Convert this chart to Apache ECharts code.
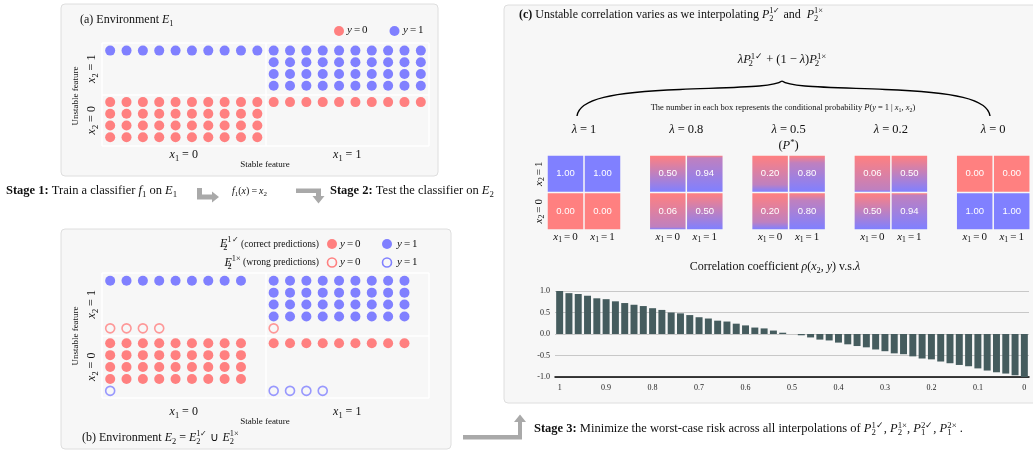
<!DOCTYPE html>
<html>
<head>
<meta charset="utf-8">
<script src="https://cdn.jsdelivr.net/npm/echarts@6/dist/echarts.min.js"></script>
<style>
  html, body { margin: 0; padding: 0; background: #ffffff; }
  #chart { width: 1033px; height: 451px; }
</style>
</head>
<body>
<div id="chart"></div>
<script>
// ---------------- data ----------------
const RED = '#ff8080';
const BLUE = '#8080ff';
const MIX = '#bf80bf';

// the four cells of the feature grid, listed as (x1, x2)
const cellX1 = [0, 1, 0, 1];
const cellX2 = [1, 1, 0, 0];

// environment E1: samples per cell, the label y equals x2
const e1Count = [10, 40, 40, 10];
// environment E2: correctly predicted samples (y = x2) and wrong ones (y = 1 - x2)
const e2Correct = [9, 36, 36, 9];
const e2Wrong = [4, 1, 1, 4];

// interpolation weights and P(y = 1 | x1, x2); each pair is [x1 = 0, x1 = 1]
const lambdaTitles = ['1', '0.8', '0.5', '0.2', '0'];
const probX2is1 = [[1.00, 1.00], [0.50, 0.94], [0.20, 0.80], [0.06, 0.50], [0.00, 0.00]];
const probX2is0 = [[0.00, 0.00], [0.06, 0.50], [0.20, 0.80], [0.50, 0.94], [1.00, 1.00]];

// correlation coefficient rho(x2, y) along lambda
const lambdaSteps = ['1', '0.98', '0.96', '0.94', '0.92', '0.9', '0.88', '0.86', '0.84', '0.82',
  '0.8', '0.78', '0.76', '0.74', '0.72', '0.7', '0.68', '0.66', '0.64', '0.62',
  '0.6', '0.58', '0.56', '0.54', '0.52', '0.5', '0.48', '0.46', '0.44', '0.42',
  '0.4', '0.38', '0.36', '0.34', '0.32', '0.3', '0.28', '0.26', '0.24', '0.22',
  '0.2', '0.18', '0.16', '0.14', '0.12', '0.1', '0.08', '0.06', '0.04', '0.02', '0'];
const corr = [1.00, 0.95, 0.93, 0.89, 0.83, 0.81, 0.76, 0.72, 0.68, 0.65,
  0.60, 0.56, 0.50, 0.48, 0.44, 0.39, 0.36, 0.31, 0.29, 0.24,
  0.20, 0.15, 0.13, 0.08, 0.03, 0.00, -0.03, -0.08, -0.13, -0.15,
  -0.20, -0.24, -0.28, -0.31, -0.36, -0.40, -0.45, -0.47, -0.52, -0.57,
  -0.59, -0.64, -0.68, -0.72, -0.75, -0.80, -0.85, -0.89, -0.92, -0.96, -1.00];

// ---------------- helpers ----------------
const SERIF = '"Liberation Serif", "Times New Roman", serif';
const SANS = '"Liberation Sans", Arial, sans-serif';
const INK = '#111111';

// rich-text styles: plain, bold, italic (math), operator, subscript, superscript, small;
// "sz" is a zero-advance subscript so a following superscript stacks above it
function rich(fs) {
  const lh = Math.round(fs * 1.3);
  const s = Math.round(fs * 0.7 * 10) / 10;
  const base = { fontFamily: SERIF, fontSize: fs, lineHeight: lh, color: INK, fontWeight: 'normal', fontStyle: 'normal' };
  const small = { fontFamily: SERIF, fontSize: s, lineHeight: s, color: INK, fontWeight: 'normal', fontStyle: 'normal' };
  return {
    t: base,
    b: Object.assign({}, base, { fontWeight: 'bold' }),
    i: Object.assign({}, base, { fontStyle: 'italic' }),
    o: Object.assign({}, base, { padding: [0, Math.round(fs * 0.22)] }),
    sb: Object.assign({}, small, { verticalAlign: 'bottom' }),
    sz: Object.assign({}, small, { verticalAlign: 'bottom', width: 0.001 }),
    sp: Object.assign({}, small, { verticalAlign: 'top' }),
    c: Object.assign({}, base, { fontSize: Math.round(fs * 0.8 * 10) / 10 })
  };
}

// a free text line centred vertically at cy
function label(text, x, cy, fs, align) {
  return {
    text: text, left: x, top: cy, padding: 0,
    textAlign: align || 'left', textVerticalAlign: 'middle',
    textStyle: { fontWeight: 'normal', fontFamily: SERIF, fontSize: fs, color: INK, rich: rich(fs) }
  };
}

// place the dots of one cell in rows, starting from a given row slot
function cellPoints(k, n, perRow, half, startRow) {
  const pts = [];
  for (let j = 0; j < n; j++) {
    const row = startRow + Math.floor(j / perRow);
    const col = j % perRow;
    pts.push([cellX1[k] * 10 + col + 0.5, (cellX2[k] + 1) * half - 0.65 - row]);
  }
  return pts;
}
function collect(counts, keep, perRow, half, startRow) {
  let pts = [];
  counts.forEach((n, k) => { if (keep(k)) pts = pts.concat(cellPoints(k, n, perRow, half, startRow)); });
  return pts;
}

const HALF_A = 4.4;   // row slots per half in panel (a)
const HALF_B = 5.25;  // row slots per half in panel (b)

const xFmt = v => `{i|x}{sb|1}{o|=}{t|${v}}`;
const yFmt = v => `{i|x}{sb|2}{o|=}{t|${v}}`;

function cellFill(p) {
  if (p >= 0.995) return BLUE;
  if (p <= 0.005) return RED;
  return new echarts.graphic.LinearGradient(0, 0, 0, 1, [
    { offset: 0, color: RED },
    { offset: 1 - p, color: MIX },
    { offset: 1, color: BLUE }
  ]);
}

// ---------------- grids & axes ----------------
const grids = [
  { left: 102, top: 43, width: 327, height: 103 },
  { left: 102, top: 273, width: 327, height: 125 }
];
const heatLeft0 = 547, heatStep = 102.3;
lambdaTitles.forEach((_, i) => grids.push({ left: heatLeft0 + heatStep * i, top: 155, width: 74, height: 75 }));
grids.push({ left: 555, top: 291, width: 474, height: 86 });

const hiddenLine = { show: false };
function valueGridAxis(gridIndex, max, interval, pos) {
  return {
    type: 'value', gridIndex, min: 0, max, interval, position: pos,
    axisLine: hiddenLine, axisTick: hiddenLine, axisLabel: hiddenLine,
    splitLine: { show: true, lineStyle: { color: '#ffffff', width: 1.5 } }
  };
}
function catAxis(gridIndex, fmt, margin, pos, rotate, showLabel, fs) {
  return {
    type: 'category', gridIndex, data: ['0', '1'], position: pos,
    axisLine: hiddenLine, axisTick: hiddenLine, splitLine: hiddenLine,
    axisLabel: { show: showLabel !== false, interval: 0, hideOverlap: false, formatter: fmt, margin,
      rotate: rotate || 0, fontWeight: 'normal', rich: rich(fs) }
  };
}

const xAxes = [
  valueGridAxis(0, 20, 10, 'top'),
  catAxis(0, xFmt, 1, 'bottom', 0, true, 12),
  valueGridAxis(1, 20, 10, 'top'),
  catAxis(1, xFmt, 6, 'bottom', 0, true, 12)
];
const yAxes = [
  valueGridAxis(0, 2 * HALF_A, HALF_A, 'right'),
  catAxis(0, yFmt, 2, 'left', 90, true, 12),
  valueGridAxis(1, 2 * HALF_B, HALF_B, 'right'),
  catAxis(1, yFmt, 2, 'left', 90, true, 12)
];
lambdaTitles.forEach((_, i) => {
  xAxes.push(catAxis(2 + i, xFmt, 0, 'bottom', 0, true, 11));
  yAxes.push(catAxis(2 + i, yFmt, 1, 'left', 90, i === 0, 11));
});
xAxes.push({
  type: 'category', gridIndex: 7, data: lambdaSteps,
  axisLine: { show: true, onZero: false, lineStyle: { color: '#000', width: 1.5 } },
  axisTick: hiddenLine,
  axisLabel: { interval: 4, fontFamily: SERIF, fontSize: 8, color: '#222', margin: 7 }
});
yAxes.push({
  type: 'value', gridIndex: 7, min: -1, max: 1, interval: 0.5,
  axisLine: hiddenLine, axisTick: hiddenLine,
  axisLabel: { formatter: v => v.toFixed(1), fontFamily: SERIF, fontSize: 8, color: '#222', margin: 5 },
  splitLine: { show: true, lineStyle: { color: '#c8c8c8', width: 1 } }
});

// ---------------- series ----------------
const dot = (name, xi, yi, data, color, hollow) => ({
  name, type: 'scatter', xAxisIndex: xi, yAxisIndex: yi, data, silent: true,
  symbol: 'circle', symbolSize: hollow ? 9 : 10,
  itemStyle: hollow ? { color: 'rgba(0,0,0,0)', borderColor: color, borderWidth: 1.6 } : { color, opacity: 1 }
});

const series = [
  dot('E1 y=0', 0, 0, collect(e1Count, k => cellX2[k] === 0, 10, HALF_A, 0), RED),
  dot('E1 y=1', 0, 0, collect(e1Count, k => cellX2[k] === 1, 10, HALF_A, 0), BLUE),
  dot('E2 correct y=0', 2, 2, collect(e2Correct, k => cellX2[k] === 0, 9, HALF_B, 0), RED),
  dot('E2 correct y=1', 2, 2, collect(e2Correct, k => cellX2[k] === 1, 9, HALF_B, 0), BLUE),
  dot('E2 wrong y=0', 2, 2, collect(e2Wrong, k => cellX2[k] === 1, 9, HALF_B, 4), RED, true),
  dot('E2 wrong y=1', 2, 2, collect(e2Wrong, k => cellX2[k] === 0, 9, HALF_B, 4), BLUE, true)
];

lambdaTitles.forEach((_, i) => {
  series.push({
    type: 'custom', xAxisIndex: 4 + i, yAxisIndex: 4 + i, silent: true,
    data: [[0, 1, probX2is1[i][0]], [1, 1, probX2is1[i][1]], [0, 0, probX2is0[i][0]], [1, 0, probX2is0[i][1]]],
    renderItem: (params, api) => {
      const c = api.coord([api.value(0), api.value(1)]);
      const s = api.size([1, 1]);
      const p = api.value(2);
      return {
        type: 'group', children: [
          { type: 'rect', shape: { x: c[0] - s[0] / 2 + 0.75, y: c[1] - s[1] / 2 + 0.75, width: s[0] - 1.5, height: s[1] - 1.5 },
            style: { fill: cellFill(p) } },
          { type: 'text', style: { text: p.toFixed(2), x: c[0], y: c[1], textAlign: 'center', textVerticalAlign: 'middle',
            fill: '#ffffff', font: '9.5px ' + SANS } }
        ]
      };
    }
  });
});

series.push({
  type: 'bar', xAxisIndex: 9, yAxisIndex: 9, data: corr, silent: true,
  barCategoryGap: '25%', itemStyle: { color: '#455c5e' }
});

// ---------------- free text ----------------
const texts = [
  label('{t|(a) Environment }{i|E}{sb|1}', 80, 20, 12),
  label('{i|y}{o|=}{t|0}', 347, 30.5, 11),
  label('{i|y}{o|=}{t|1}', 403, 30.5, 11),
  label('{t|Stable feature}', 265, 165, 9, 'center'),

  label('{b|Stage 1:}{t| Train a classifier }{i|f}{sb|1}{t| on }{i|E}{sb|1}', 6, 191, 12.5),
  label('{i|f}{sb|1}{t|(}{i|x}{t|)}{o|=}{i|x}{sb|2}', 232, 191, 10),
  label('{b|Stage 2:}{t| Test the classifier on }{i|E}{sb|2}', 330, 191, 12.5),

  label('{i|E}{sz|2}{sp|1✓}{c| (correct predictions)}', 319, 244, 12, 'right'),
  label('{i|E}{sz|2}{sp|1×}{c| (wrong predictions)}', 319, 262.5, 12, 'right'),
  label('{i|y}{o|=}{t|0}', 340, 244, 11),
  label('{i|y}{o|=}{t|1}', 397, 244, 11),
  label('{i|y}{o|=}{t|0}', 340, 262.5, 11),
  label('{i|y}{o|=}{t|1}', 397, 262.5, 11),
  label('{t|Stable feature}', 265, 422, 9, 'center'),
  label('{t|(b) Environment }{i|E}{sb|2}{o|=}{i|E}{sz|2}{sp|1✓}{o|∪}{i|E}{sz|2}{sp|1×}', 82, 438, 12),

  label('{b|(c)}{t| Unstable correlation varies as we interpolating }{i|P}{sz|2}{sp|1✓}{t| and  }{i|P}{sz|2}{sp|1×}', 519, 15, 12),
  label('{i|λP}{sz|2}{sp|1✓}{o|+}{t|(1}{o|−}{i|λ}{t|)}{i|P}{sz|2}{sp|1×}', 782, 60, 12.5, 'center'),
  label('{t|The number in each box represents the conditional probability }{i|P}{t|(}{i|y}{o|=}{t|1}{o||}{i|x}{sb|1}{t|, }{i|x}{sb|2}{t|)}', 783, 108, 8.5, 'center'),
  label('{t|(}{i|P}{sp|*}{t|)}', heatLeft0 + 37 + heatStep * 2, 146, 12.5, 'center'),
  label('{t|Correlation coefficient }{i|ρ}{t|(}{i|x}{sb|2}{t|, }{i|y}{t|) v.s.}{i|λ}', 775, 267, 12, 'center'),

  label('{b|Stage 3:}{t| Minimize the worst-case risk across all interpolations of }{i|P}{sz|2}{sp|1✓}{t|, }{i|P}{sz|2}{sp|1×}{t|, }{i|P}{sz|1}{sp|2✓}{t|, }{i|P}{sz|1}{sp|2×}{t| .}', 534, 429, 12.5)
];
lambdaTitles.forEach((l, i) => texts.push(label(`{i|λ}{o|=}{t|${l}}`, heatLeft0 + 37 + heatStep * i, 130, 12.5, 'center')));

// ---------------- drawn decorations ----------------
const panel = (x, y, w, h) => ({
  type: 'rect', z: -10, silent: true,
  shape: { x, y, width: w, height: h, r: 4 },
  style: { fill: '#f7f7f7', stroke: '#dedede', lineWidth: 1 }
});
const ARROW = '#a9a9a9';
const rotText = (text, x, y, fs) => ({
  type: 'text', x, y, rotation: Math.PI / 2, silent: true,
  style: { text, font: fs + 'px ' + SERIF, fill: INK, textAlign: 'center', textVerticalAlign: 'middle' }
});
const brace = (x1, y1, cpx1, cpy1, cpx2, cpy2, x2, y2) => ({
  type: 'bezierCurve', silent: true,
  shape: { x1, y1, cpx1, cpy1, cpx2, cpy2, x2, y2 },
  style: { stroke: '#000', lineWidth: 1.4, fill: null }
});

const graphics = [
  panel(61, 4, 377, 172),
  panel(61, 229, 390, 220),
  panel(504, 5, 545, 398),
  rotText('Unstable feature', 76, 96, 9),
  rotText('Unstable feature', 76, 336, 9),
  { type: 'circle', silent: true, shape: { cx: 339, cy: 31, r: 5 }, style: { fill: RED } },
  { type: 'circle', silent: true, shape: { cx: 394.5, cy: 31, r: 5 }, style: { fill: BLUE } },
  { type: 'circle', silent: true, shape: { cx: 332, cy: 244, r: 5 }, style: { fill: RED } },
  { type: 'circle', silent: true, shape: { cx: 387, cy: 244, r: 5 }, style: { fill: BLUE } },
  { type: 'circle', silent: true, shape: { cx: 332, cy: 262.5, r: 4.5 }, style: { fill: 'none', stroke: RED, lineWidth: 1.6 } },
  { type: 'circle', silent: true, shape: { cx: 387, cy: 262.5, r: 4.5 }, style: { fill: 'none', stroke: BLUE, lineWidth: 1.6 } },
  // stage arrows
  { type: 'polygon', silent: true, style: { fill: ARROW },
    shape: { points: [[197, 188], [202, 188], [202, 194.5], [212, 194.5], [212, 191.5], [219, 197], [212, 202.5], [212, 199.5], [197, 199.5]] } },
  { type: 'polygon', silent: true, style: { fill: ARROW },
    shape: { points: [[296, 188.5], [321, 188.5], [321, 196], [324.5, 196], [318.5, 203.5], [312.5, 196], [316, 196], [316, 193], [296, 193]] } },
  { type: 'polygon', silent: true, style: { fill: ARROW },
    shape: { points: [[463, 435], [518, 435], [518, 422], [514, 422], [520, 414.5], [526, 422], [522, 422], [522, 439.5], [463, 439.5]] } },
  // curly brace over the interpolation boxes
  brace(577, 116, 579, 99, 612, 92, 680, 89.5),
  brace(680, 89.5, 742, 87, 774, 87, 782, 81),
  brace(782, 81, 790, 87, 822, 87, 885, 89.5),
  brace(885, 89.5, 955, 92, 988, 99, 990, 116)
];

const chart = echarts.init(document.getElementById('chart'), null, { renderer: 'canvas' });
chart.setOption({
  animation: false,
  backgroundColor: '#ffffff',
  title: texts,
  grid: grids,
  xAxis: xAxes,
  yAxis: yAxes,
  series: series,
  graphic: { elements: graphics }
});
</script>
</body>
</html>
